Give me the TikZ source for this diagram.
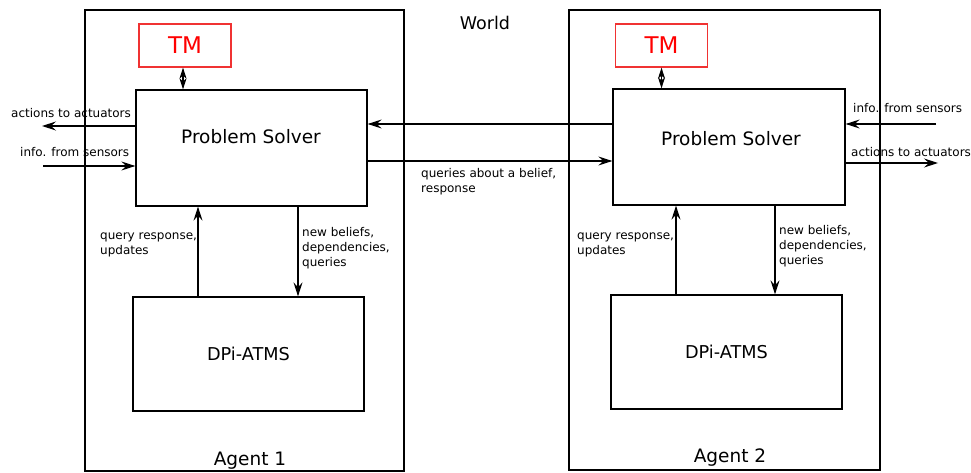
\documentclass[tikz,border=0pt]{standalone}
\usepackage{fontspec}
\setmainfont{DejaVu Sans}
\usetikzlibrary{arrows.meta}
\definecolor{tmred}{RGB}{255,0,0}
\definecolor{tmborder}{RGB}{240,50,50}
\begin{document}
\begin{tikzpicture}[x=1pt,y=-1pt,
  agentbox/.style={draw,line width=2.3pt,minimum width=#1,inner sep=0pt},
  innerbox/.style={draw,line width=1.3pt,inner sep=0pt},
  tmbox/.style={draw=tmborder,line width=1.3pt,minimum width=92pt,minimum height=43pt,inner sep=0pt,text=tmred,font=\fontsize{23}{27}\selectfont},
  arr/.style={line width=1.1pt,-{Stealth[length=14pt,width=9pt,inset=5pt]}},
  dblarr/.style={line width=1.1pt,{Stealth[length=11pt,width=7pt,inset=3pt]}-{Stealth[length=11pt,width=7pt,inset=3pt]}},
  smalltxt/.style={font=\fontsize{12}{15}\selectfont,align=left,inner sep=0pt},
  bigtxt/.style={font=\fontsize{18.5}{22}\selectfont,inner sep=0pt}]
\useasboundingbox (0,0) rectangle (971,473);
% agents
\node[agentbox=319pt,minimum height=461pt] (ag1) at (244.5,240.5) {};
\node[agentbox=311pt,minimum height=460pt] (ag2) at (724.5,240) {};
\node[bigtxt] (ag1lab) at (250,461) {Agent 1};
\node[bigtxt] (ag2lab) at (730,458) {Agent 2};
\node[font=\fontsize{17.5}{21}\selectfont,inner sep=0pt] (world) at (485,23) {World};
% TM
\node[tmbox] (tm1) at (185,45.5) {TM};
\node[tmbox] (tm2) at (661.5,45.5) {TM};
% problem solvers
\node[innerbox,minimum width=231pt,minimum height=116pt] (ps1) at (251.5,148) {};
\node[bigtxt] (ps1lab) at (251,137) {Problem Solver};
\node[innerbox,minimum width=232pt,minimum height=116pt] (ps2) at (729,147) {};
\node[bigtxt] (ps2lab) at (731,139) {Problem Solver};
% DPi-ATMS
\node[innerbox,minimum width=231pt,minimum height=114pt,font=\fontsize{17.7}{21}\selectfont] (dp1) at (248.5,354) {DPi-ATMS};
\node[innerbox,minimum width=231pt,minimum height=114pt,font=\fontsize{17.7}{21}\selectfont] (dp2) at (726.5,352) {DPi-ATMS};
% TM arrows
\draw[dblarr] ([xshift=-2pt]tm1.south) -- ([xshift=-2pt]tm1.south |- ps1.north);
\draw[dblarr] (tm2.south) -- (tm2.south |- ps2.north);
% external arrows agent 1
\coordinate (a1out) at (42,126);
\coordinate (a1in) at (43,166);
\draw[arr] (ps1.west |- a1out) -- (a1out);
\draw[arr] (a1in) -- (ps1.west |- a1in);
\node[smalltxt,anchor=west] (a1outlab) at (11,113) {actions to actuators};
\node[smalltxt,anchor=west] (a1inlab) at (20,152) {info. from sensors};
% external arrows agent 2
\coordinate (a2in) at (936,124);
\coordinate (a2out) at (938,163);
\draw[arr] (a2in) -- (ps2.east |- a2in);
\draw[arr] (ps2.east |- a2out) -- (a2out);
\node[smalltxt,anchor=west] (a2inlab) at (853,108) {info. from sensors};
\node[smalltxt,anchor=west] (a2outlab) at (851,152) {actions to actuators};
% between agents
\coordinate (mtop) at (490,124);
\coordinate (mbot) at (490,161);
\draw[arr] (ps2.west |- mtop) -- (ps1.east |- mtop);
\draw[arr] (ps1.east |- mbot) -- (ps2.west |- mbot);
\node[smalltxt,anchor=north west] (midlab) at (421,168) {queries about a belief,\\response};
% vertical arrows agent 1
\coordinate (v1u) at (198,0);
\coordinate (v1d) at (298,0);
\draw[arr] (v1u |- dp1.north) -- (v1u |- ps1.south);
\draw[arr] (v1d |- ps1.south) -- (v1d |- dp1.north);
\node[smalltxt,anchor=north west] (q1lab) at (100,233) {query response,\\updates};
\node[smalltxt,anchor=north west] (n1lab) at (302,227) {new beliefs,\\dependencies,\\queries};
% vertical arrows agent 2
\coordinate (v2u) at (676,0);
\coordinate (v2d) at (775,0);
\draw[arr] (v2u |- dp2.north) -- (v2u |- ps2.south);
\draw[arr] (v2d |- ps2.south) -- (v2d |- dp2.north);
\node[smalltxt,anchor=north west] (q2lab) at (577,233) {query response,\\updates};
\node[smalltxt,anchor=north west] (n2lab) at (779,225) {new beliefs,\\dependencies,\\queries};
\end{tikzpicture}
\end{document}
